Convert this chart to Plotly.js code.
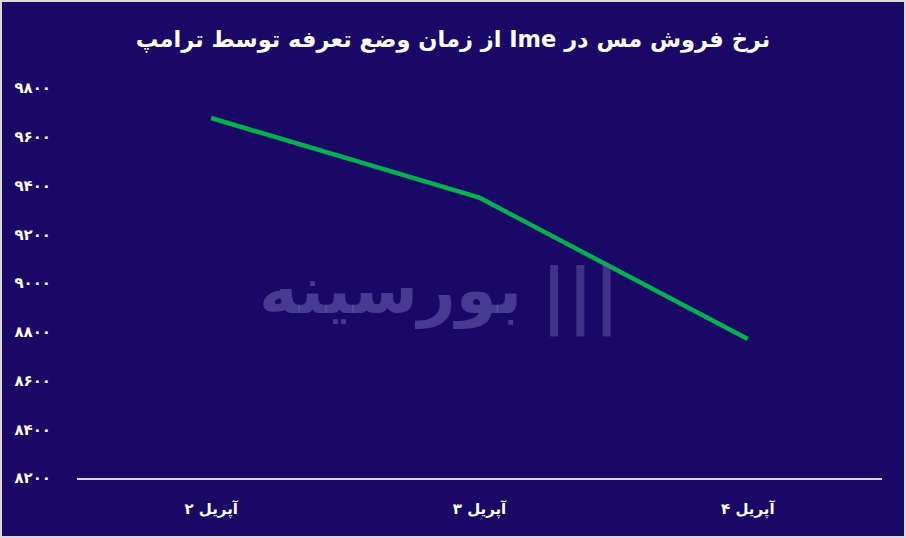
<!DOCTYPE html>
<html>
<head>
<meta charset="utf-8">
<script src="https://cdn.plot.ly/plotly-3.0.1.min.js"></script>
<style>
html,body{margin:0;padding:0;background:#d9d9d9;}
#wrap{position:absolute;left:0;top:0;width:906px;height:538px;box-sizing:border-box;border:2px solid #d9d9d9;background:#1a0866;}
#chart{width:902px;height:534px;}
</style>
</head>
<body>
<div id="wrap"><div id="chart"></div></div>
<script>
const categories = ['۲ آپریل', '۳ آپریل', '۴ آپریل'];
const prices = [9677, 9350, 8770];
const tickVals = [8200, 8400, 8600, 8800, 9000, 9200, 9400, 9600, 9800];
const tickLabels = ['۸۲۰۰', '۸۴۰۰', '۸۶۰۰', '۸۸۰۰', '۹۰۰۰', '۹۲۰۰', '۹۴۰۰', '۹۶۰۰', '۹۸۰۰'];
const titleText = 'نرخ فروش مس در Ime از زمان وضع تعرفه توسط ترامپ';
const watermark = 'بورسینه';

const font = 'DejaVu Sans, sans-serif';
const RLE = '\u202B', PDF = '\u202C';

const trace = {
  x: categories,
  y: prices,
  type: 'scatter',
  mode: 'lines',
  line: {color: '#00b04f', width: 4.5},
  hoverinfo: 'skip'
};

const layout = {
  width: 902,
  height: 534,
  margin: {l: 75, r: 22, t: 86, b: 58},
  paper_bgcolor: '#1a0866',
  plot_bgcolor: '#1a0866',
  showlegend: false,
  title: {
    text: '<b>' + RLE + titleText + PDF + '</b>',
    x: 0.5, xanchor: 'center',
    y: 0.93, yanchor: 'middle',
    font: {family: font, size: 22.5, color: '#ffffff'}
  },
  xaxis: {
    type: 'category',
    range: [-0.5, 2.5],
    showgrid: false,
    zeroline: false,
    showline: true,
    linecolor: '#d9d9d9',
    linewidth: 2,
    ticks: 'outside',
    ticklen: 16,
    tickcolor: 'rgba(0,0,0,0)',
    tickfont: {family: font, size: 15, color: '#ffffff', weight: 'bold'},
    fixedrange: true
  },
  yaxis: {
    range: [8200, 9800],
    tickvals: tickVals,
    ticktext: tickLabels,
    showgrid: false,
    zeroline: false,
    showline: false,
    ticks: 'outside',
    ticklen: 22,
    tickcolor: 'rgba(0,0,0,0)',
    tickfont: {family: font, size: 15, color: '#ffffff', weight: 'bold'},
    fixedrange: true
  },
  annotations: [{
    text: '<b>' + watermark + '</b>',
    xref: 'paper', yref: 'paper',
    x: 0.39, y: 0.48,
    xanchor: 'center', yanchor: 'middle',
    showarrow: false,
    font: {family: font, size: 66, color: 'rgba(110,100,180,0.55)'}
  }, {
    text: '<b>|||</b>',
    xref: 'paper', yref: 'paper',
    x: 0.625, y: 0.47,
    xanchor: 'center', yanchor: 'middle',
    showarrow: false,
    font: {family: font, size: 72, color: 'rgba(110,100,180,0.45)'}
  }]
};

Plotly.newPlot('chart', [trace], layout, {displayModeBar: false, staticPlot: true});
</script>
</body>
</html>
